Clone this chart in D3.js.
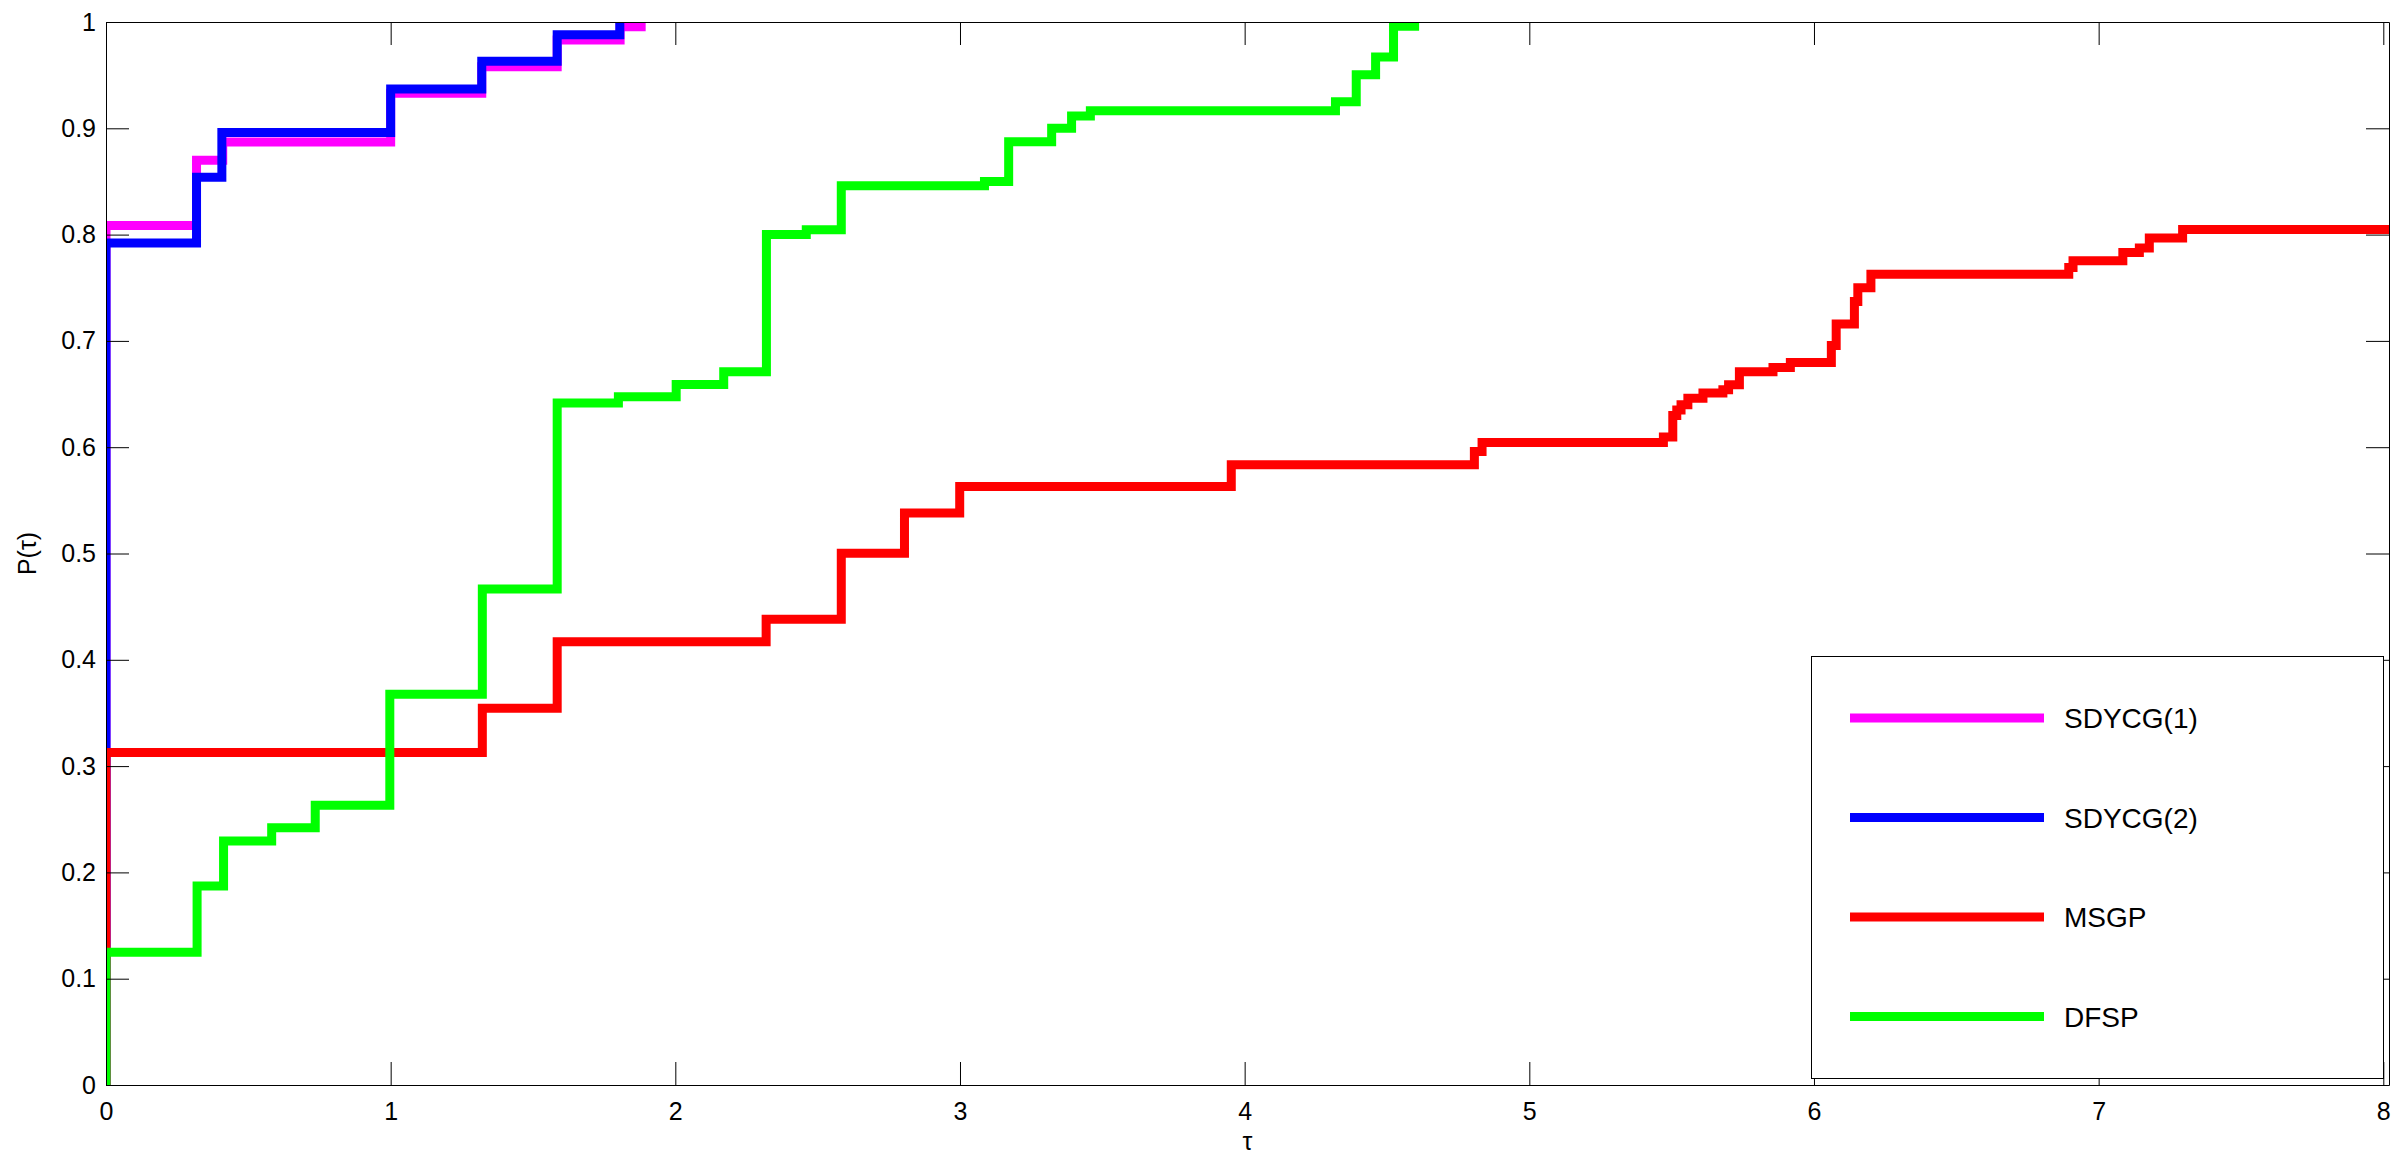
<!DOCTYPE html>
<html>
<head>
<meta charset="utf-8">
<script src="https://cdn.jsdelivr.net/npm/d3@7"></script>
<style>
  body { margin: 0; background: #fff; }
  svg { display: block; }
  .axis text { font-family: "Liberation Sans", Arial, sans-serif; font-size: 25px; fill: #000; }
  .axis path, .axis line { stroke: #000; stroke-width: 1; }
  .legend text { font-family: "Liberation Sans", Arial, sans-serif; font-size: 28px; fill: #000; }
</style>
</head>
<body>
<div id="chart"></div>
<script>
// performance profile data (tau where the step happens, P after the step)
const seriesNames = ['SDYCG(1)', 'SDYCG(2)', 'MSGP', 'DFSP']
const seriesColors = ['#ff00ff', '#0000ff', '#ff0000', '#00ff00']

const sdycg1Tau = [0, 0, 0.318, 0.41, 1.0, 1.32, 1.585, 1.806, 1.88]
const sdycg1P   = [0, 0.8085, 0.870, 0.887, 0.933, 0.958, 0.983, 0.9955, 1.0]

const sdycg2Tau = [0, 0, 0.318, 0.407, 1.0, 1.32, 1.585, 1.805]
const sdycg2P   = [0, 0.792, 0.854, 0.896, 0.937, 0.963, 0.988, 1.0]

const msgpTau = [0, 0, 1.322, 1.585, 2.319, 2.583, 2.805, 2.999, 3.953, 4.807, 4.834,
  5.471, 5.504, 5.518, 5.533, 5.557, 5.61, 5.68, 5.70, 5.738, 5.856, 5.917,
  6.061, 6.078, 6.142, 6.154, 6.20, 6.895, 6.91, 7.085, 7.143, 7.178, 7.295, 8.02]
const msgpP = [0, 0.3127, 0.3544, 0.4169, 0.4382, 0.5003, 0.538, 0.563, 0.5834, 0.596, 0.6044,
  0.6095, 0.6298, 0.635, 0.640, 0.646, 0.651, 0.654, 0.6587, 0.671, 0.675, 0.6797,
  0.6957, 0.716, 0.737, 0.750, 0.7628, 0.769, 0.7754, 0.7832, 0.7873, 0.7967, 0.8049, 0.8049]

const dfspTau = [0, 0, 0.32, 0.413, 0.582, 0.735, 0.997, 1.322, 1.585, 1.80, 2.003, 2.17,
  2.32, 2.46, 2.583, 3.086, 3.171, 3.322, 3.392, 3.458, 4.319, 4.392, 4.46, 4.523, 4.597]
const dfspP = [0, 0.125, 0.1873, 0.2296, 0.2421, 0.2632, 0.3676, 0.4667, 0.6416, 0.6474, 0.659, 0.671,
  0.800, 0.8045, 0.846, 0.850, 0.8873, 0.900, 0.9116, 0.9165, 0.925, 0.9504, 0.967, 0.996, 1.0]

const xTicks = [0, 1, 2, 3, 4, 5, 6, 7, 8]
const yTicks = [0, 0.1, 0.2, 0.3, 0.4, 0.5, 0.6, 0.7, 0.8, 0.9, 1]
const yTickLabels = ['0', '0.1', '0.2', '0.3', '0.4', '0.5', '0.6', '0.7', '0.8', '0.9', '1']

const tauMax = 8.02

// layout
const W = 2404, H = 1166
const mLeft = 106, mRight = 2389, mTop = 22, mBottom = 1085
const tickLen = 23

const svg = d3.select('#chart').append('svg')
  .attr('width', W)
  .attr('height', H)

svg.append('rect').attr('width', W).attr('height', H).attr('fill', '#fff')

const x = d3.scaleLinear().domain([0, tauMax]).range([mLeft, mRight])
const y = d3.scaleLinear().domain([0, 1]).range([mBottom, mTop])

svg.append('clipPath').attr('id', 'plotclip')
  .append('rect')
  .attr('x', mLeft).attr('y', mTop)
  .attr('width', mRight - mLeft).attr('height', mBottom - mTop)

// the curves, drawn in legend order so DFSP ends up on top
const series = [
  { tau: sdycg1Tau, p: sdycg1P },
  { tau: sdycg2Tau, p: sdycg2P },
  { tau: msgpTau, p: msgpP },
  { tau: dfspTau, p: dfspP }
]

const line = d3.line()
  .x(d => x(d[0]))
  .y(d => y(d[1]))
  .curve(d3.curveStepAfter)

const curves = svg.append('g').attr('clip-path', 'url(#plotclip)')
series.forEach((s, i) => {
  const pts = s.tau.map((t, k) => [t, s.p[k]])
  curves.append('path')
    .datum(pts)
    .attr('fill', 'none')
    .attr('stroke', seriesColors[i])
    .attr('stroke-width', 9)
    .attr('stroke-linejoin', 'miter')
    .attr('stroke-linecap', 'butt')
    .attr('d', line)
})

// axes: ticks inside on all four sides
svg.append('g').attr('class', 'axis')
  .attr('transform', 'translate(0,' + mBottom + ')')
  .call(d3.axisBottom(x).tickValues(xTicks).tickFormat(d3.format('d'))
    .tickSizeInner(-tickLen).tickSizeOuter(0).tickPadding(17))

svg.append('g').attr('class', 'axis')
  .attr('transform', 'translate(' + mLeft + ',0)')
  .call(d3.axisLeft(y).tickValues(yTicks).tickFormat((d, i) => yTickLabels[i])
    .tickSizeInner(-tickLen).tickSizeOuter(0).tickPadding(10))

svg.append('g').attr('class', 'axis')
  .attr('transform', 'translate(0,' + mTop + ')')
  .call(d3.axisTop(x).tickValues(xTicks).tickFormat('')
    .tickSizeInner(-tickLen).tickSizeOuter(0))

svg.append('g').attr('class', 'axis')
  .attr('transform', 'translate(' + mRight + ',0)')
  .call(d3.axisRight(y).tickValues(yTicks).tickFormat('')
    .tickSizeInner(-tickLen).tickSizeOuter(0))

svg.selectAll('.axis').attr('font-family', null).attr('font-size', null)

// axis labels
svg.append('text')
  .attr('x', (mLeft + mRight) / 2)
  .attr('y', 1150)
  .attr('text-anchor', 'middle')
  .style('font-family', '"Liberation Sans", Arial, sans-serif')
  .style('font-size', '25px')
  .text('τ')

svg.append('text')
  .attr('transform', 'translate(36,' + (mTop + mBottom) / 2 + ') rotate(-90)')
  .attr('text-anchor', 'middle')
  .style('font-family', '"Liberation Sans", Arial, sans-serif')
  .style('font-size', '25px')
  .text('P(τ)')

// legend
const legend = svg.append('g').attr('class', 'legend')
legend.append('rect')
  .attr('x', 1811.5).attr('y', 656.5)
  .attr('width', 572).attr('height', 422)
  .attr('fill', '#fff')
  .attr('stroke', '#000')
  .attr('stroke-width', 1)

seriesNames.forEach((name, i) => {
  const ly = 718 + i * 99.5
  legend.append('line')
    .attr('x1', 1850).attr('x2', 2044)
    .attr('y1', ly).attr('y2', ly)
    .attr('stroke', seriesColors[i])
    .attr('stroke-width', 9)
  legend.append('text')
    .attr('x', 2064)
    .attr('y', ly + 10)
    .text(name)
})
</script>
</body>
</html>
